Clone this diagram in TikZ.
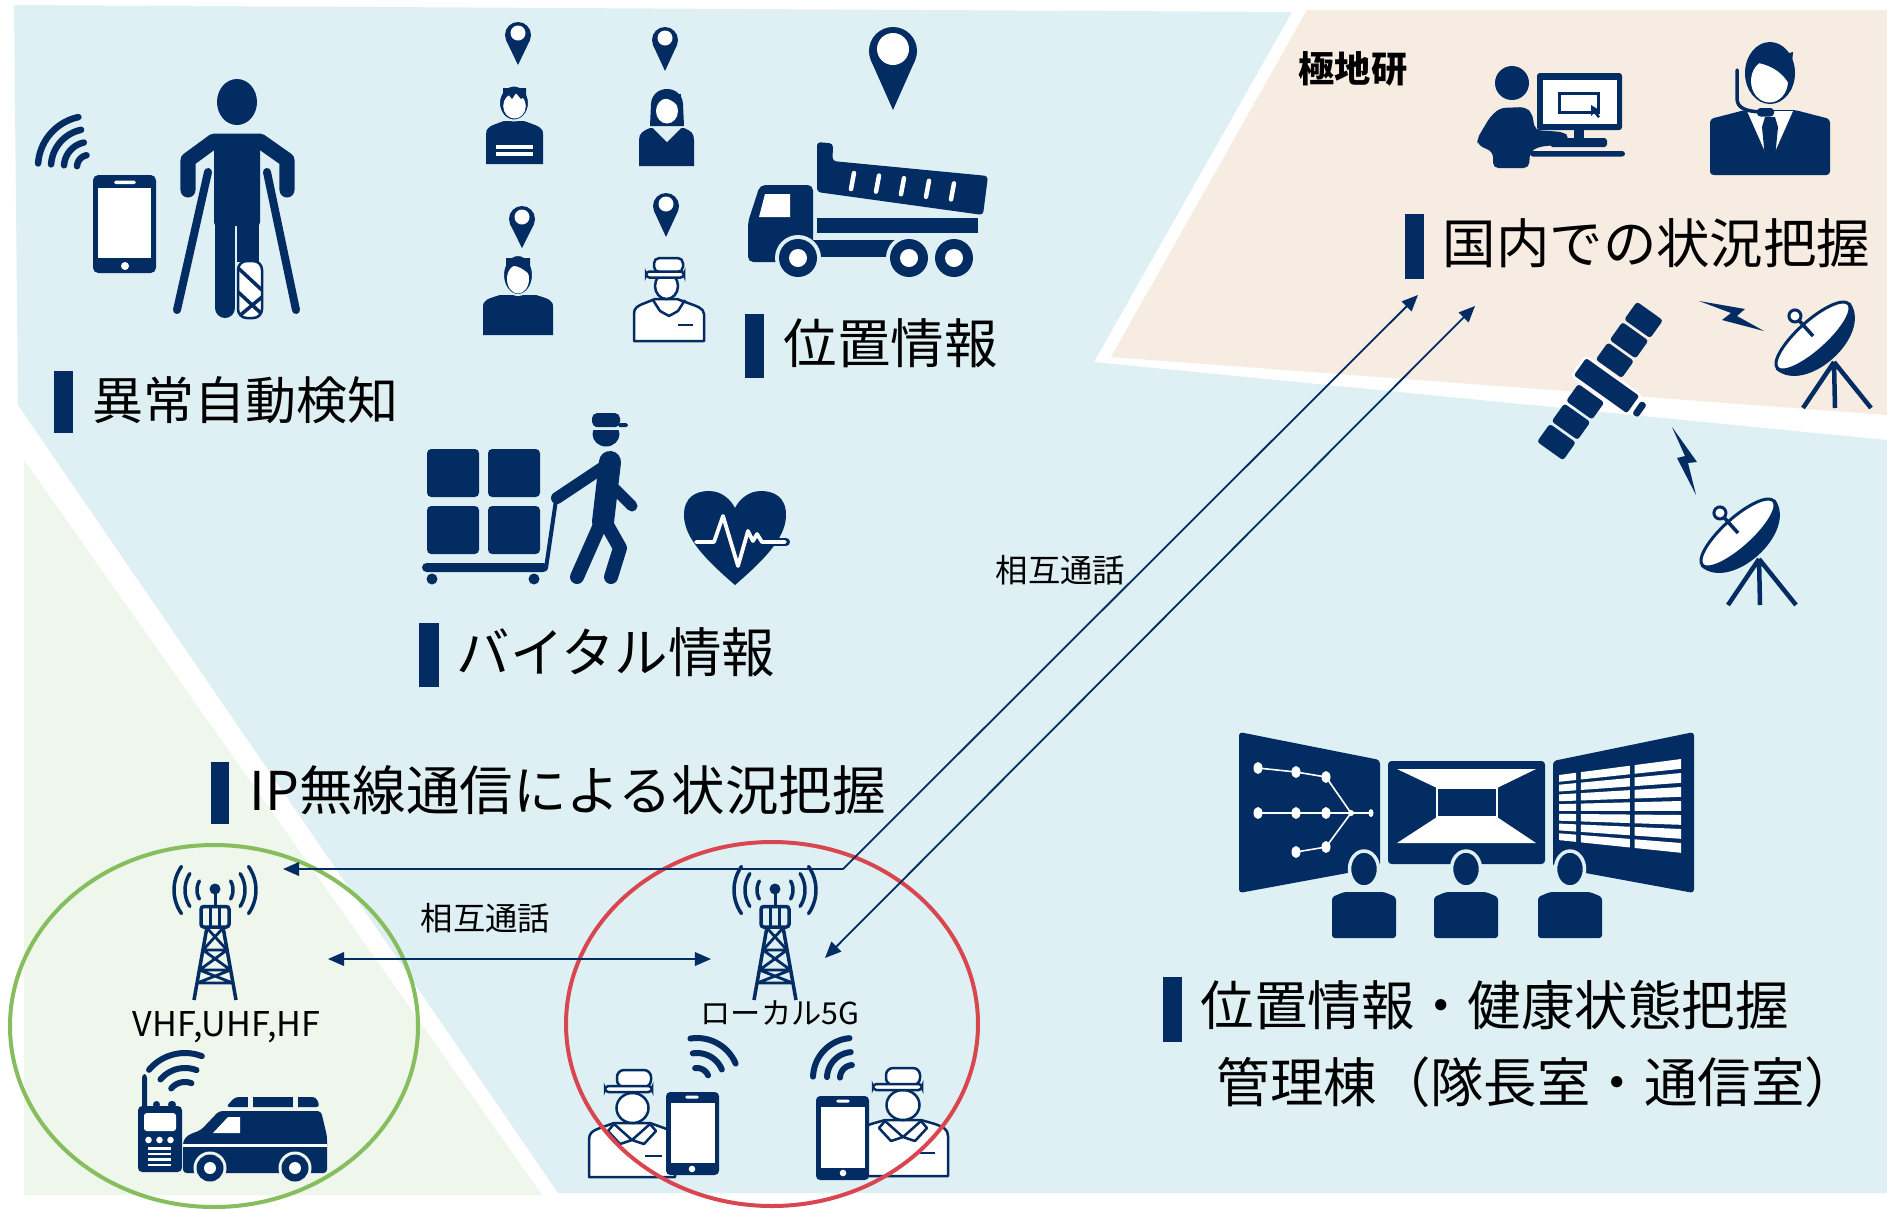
\documentclass[tikz,border=0pt]{standalone}
\usepackage{fontspec}
\newfontfamily\jp{Noto Sans CJK JP}
\usetikzlibrary{arrows.meta}

\definecolor{navy}{HTML}{022C62}
\definecolor{skybg}{HTML}{DFF0F4}
\definecolor{sandbg}{HTML}{F6ECE1}
\definecolor{leafbg}{HTML}{EFF6EC}
\definecolor{ringgreen}{HTML}{86BD5D}
\definecolor{ringred}{HTML}{DA4650}

\tikzset{
  lw/.style={line width=#1*0.2845pt},
  title/.style={inner sep=0pt, anchor=west, text=black, font=\jp\fontsize{15.2pt}{18pt}\selectfont},
  smalllbl/.style={inner sep=0pt, anchor=west, text=black, font=\jp\fontsize{9.2pt}{11pt}\selectfont},
  link/.style={navy, lw=1.8, {Triangle[length=4.6pt,width=3.9pt]}-{Triangle[length=4.6pt,width=3.9pt]}},
  radiotower/.pic={
    \foreach \r/\a in {18/30, 30/33, 41/35} {
      \draw[navy, lw=3.5, line cap=round] plot[domain=-\a:\a, samples=14] ({\r*cos(\x)},{1+\r*sin(\x)});
      \draw[navy, lw=3.5, line cap=round] plot[domain=180-\a:180+\a, samples=14] ({\r*cos(\x)},{1+\r*sin(\x)});
    }
    \fill[navy] (0,0) circle[radius=5.5];
    \draw[navy, lw=3] (0,0) -- (0,17);
    \draw[navy, lw=3.5, rounded corners=0.8pt] (-14,17.5) rectangle (14,38);
    \draw[navy, lw=3] (-4.7,17.5) -- (-4.7,38) (4.7,17.5) -- (4.7,38);
    \draw[navy, lw=3.5] (-8,38) -- (-21,111) (8,38) -- (21,111);
    \draw[navy, lw=2.8] (-8,39) -- (12,61) (8,39) -- (-12,61) (-12,61) -- (12,61)
      (-12,61) -- (15.6,81) (12,61) -- (-15.6,81) (-15.6,81) -- (15.6,81)
      (-15.6,81) -- (17.9,94) (15.6,81) -- (-17.9,94) (-17.9,94) -- (17.9,94);
  },
  dish/.pic={
    \draw[navy, lw=4.5] (21,26) -- (-10,72) (21,26) -- (22,72) (21,26) -- (58,72);
    \begin{scope}[rotate=42]
      \fill[navy] (-50,0) .. controls (-45,40) and (45,40) .. (50,0) -- cycle;
      \filldraw[fill=white, draw=navy, lw=3] (0,0) ellipse[x radius=48, y radius=15];
      \draw[navy, lw=3.5] (0,0) -- (0,-21);
      \filldraw[fill=white, draw=navy, lw=3] (0,-27) circle[radius=6];
    \end{scope}
  }
}

\newcommand\mapPin[5]{%
  \fill[navy] (#1,#2) circle[radius=#3];
  \fill[navy] ({#1-0.91*#3},{#2+0.41*#3}) -- (#1,#4) -- ({#1+0.91*#3},{#2+0.41*#3}) -- cycle;
  \fill[white] (#1,{#2-2}) circle[radius=#5];
}

\begin{document}
\begin{tikzpicture}[x=0.01cm, y=-0.01cm]
\useasboundingbox (0,0) rectangle (1887,1208);
\fill[white] (0,0) rectangle (1887,1208);

% ---------- background areas ----------
\fill[skybg] (14,5) -- (1292,12) -- (1094,362) -- (1887,440) -- (1887,1193) -- (558,1193) -- (18,405) -- cycle;
\fill[sandbg] (1307,10) -- (1887,10) -- (1887,415) -- (1111,357) -- cycle;
\fill[leafbg] (24,460) -- (542,1195) -- (24,1195) -- cycle;

% ---------- injured person with phone ----------
\fill[navy] (237,102) ellipse[x radius=20, y radius=23];
\draw[navy, lw=15, line join=round, line cap=round] (188,190) -- (188,160) -- (214,141) -- (260,141) -- (287,160) -- (287,190);
\fill[navy, rounded corners=1pt] (214,134) rectangle (260,226);
\draw[navy, lw=20, line cap=round] (225,220) -- (225,308);
\fill[navy] (237,220) rectangle (259,262);
\begin{scope}
  \filldraw[fill=white, draw=navy, lw=2.5, rounded corners=2.5pt] (238,261) rectangle (262,318);
  \clip[rounded corners=2.5pt] (238,261) rectangle (262,318);
  \draw[navy, lw=3.5] (236,266) -- (264,292) (236,290) -- (264,316) (238,317) -- (262,297);
\end{scope}
\draw[navy, lw=8, line cap=round] (208,172) -- (177,310);
\draw[navy, lw=8, line cap=round] (267,172) -- (296,310);
\fill[navy, rounded corners=1.5pt] (93,175) rectangle (156,273);
\fill[white] (98,188) rectangle (151,258);
\fill[white, rounded corners=0.5pt] (114,180.5) rectangle (136,184);
\fill[white] (125,266) circle[radius=4];
\foreach \r in {12,25,38,51}
  \draw[navy, lw=6.5, line cap=round] plot[domain=-176:-102, samples=24] ({89+\r*cos(\x)},{167+\r*sin(\x)});

\fill[navy] (54,371) rectangle (73,433);
\node[title, font=\jp\fontsize{14.5pt}{17pt}\selectfont] (lblAnomaly) at (92,400) {異常自動検知};

% ---------- located people ----------
\mapPin{518}{35}{13}{65}{7.5}
\mapPin{665}{40}{13}{71}{7.5}
\mapPin{522}{219}{13}{248}{7.5}
\mapPin{666}{206}{13}{237}{7.5}

% person with striped shirt
\fill[navy] (486,164) -- (486,134) .. controls (486,127) and (490,126) .. (504,121) -- (524,121) .. controls (538,126) and (543,127) .. (543,134) -- (543,164) -- cycle;
\fill[white] (496,144.5) rectangle (533,148.5);
\fill[white] (496,151.5) rectangle (533,155.5);
\filldraw[fill=navy, draw=skybg, lw=2] (514,103) ellipse[x radius=15, y radius=17.5];
\fill[white] (514.5,106) ellipse[x radius=11.3, y radius=12.5];
\fill[navy] (503,100) -- (508,94) -- (512,99) -- (516,93) -- (521,99) -- (526,96) -- (526,88) -- (503,88) -- cycle;

% woman
\fill[navy] (639,166) -- (639,140) .. controls (639,133) and (643,131) .. (650,128) -- (684,128) .. controls (691,131) and (694,133) .. (694,140) -- (694,166) -- cycle;
\fill[skybg] (652,127) -- (667,142) -- (682,127) -- cycle;
\fill[navy] (650,126) -- (651,104) .. controls (652,84) and (682,84) .. (683,104) -- (684,126) -- cycle;
\fill[white] (667,111) ellipse[x radius=11, y radius=12.5];
\fill[navy] (655,100) .. controls (662,96) and (672,98) .. (680,108) -- (681,94) -- (655,94) -- cycle;

% man
\fill[navy] (483,335) -- (483,307) .. controls (483,300) and (487,299) .. (500,295) -- (536,295) .. controls (549,299) and (553,300) .. (553,307) -- (553,335) -- cycle;
\filldraw[fill=navy, draw=skybg, lw=2] (518,275) ellipse[x radius=15, y radius=20];
\fill[white] (518,279) ellipse[x radius=11, y radius=14.5];
\fill[navy] (506,270) .. controls (512,262) and (522,267) .. (530,275) -- (530,258) -- (506,258) -- cycle;

% worker with cap
\filldraw[fill=white, draw=navy, lw=2.5, line join=round] (634,341) -- (634,314) .. controls (634,308) and (637,306) .. (645,303) -- (655,299) -- (677,299) -- (688,303) .. controls (696,306) and (704,308) .. (704,314) -- (704,341) -- cycle;
\draw[navy, lw=2.5, line join=round] (653,300) -- (660,311) -- (669,316) -- (678,311) -- (685,300);
\draw[navy, lw=2.5] (678,325) -- (693,325);
\filldraw[fill=white, draw=navy, lw=2.5] (666.5,286) ellipse[x radius=11.5, y radius=13];
\filldraw[fill=white, draw=navy, lw=2.5, rounded corners=1.5pt] (654,272) -- (654,258) -- (683,258) -- (683,272) -- cycle;
\filldraw[fill=white, draw=navy, lw=2.5, rounded corners=1pt] (646,271.5) rectangle (684,277.5);

% ---------- dump truck ----------
\mapPin{893}{51}{24}{110}{16}
\fill[navy, rounded corners=1pt] (817,142) -- (833,143.5) -- (832.5,161) -- (988,176) -- (983,215) -- (817,192) -- cycle;
\foreach \k in {0,...,4}
  \draw[white, lw=4.5, line cap=round] ({854+25*\k},{173+2.6*\k}) -- ({851+25*\k},{189+2.6*\k});
\fill[navy] (817,218) rectangle (978,233);
\fill[navy, rounded corners=1.5pt] (748,262) -- (748,222) -- (760,185) -- (813,185) -- (813,262) -- cycle;
\fill[white] (765,194) -- (790,194) -- (790,217) -- (759,217) -- cycle;
\fill[navy] (810,240) rectangle (895,257);
\fill[skybg] (798,258) circle[radius=23];
\fill[skybg] (909,258) circle[radius=23];
\foreach \c in {798,909,954} {
  \fill[navy] (\c,258) circle[radius=19];
  \fill[white] (\c,258) circle[radius=9];
}
\fill[navy] (745,314) rectangle (764,378);
\node[title] (lblPos) at (783,343) {位置情報};

% ---------- hand cart and vital sign ----------
\foreach \bx/\by in {427/449, 488/449, 427/506, 488/506}
  \fill[navy, rounded corners=1.2pt] (\bx,\by) rectangle ++(52,48);
\fill[navy, rounded corners=1.3pt] (422,563) rectangle (548,572);
\fill[navy] (432,579) circle[radius=5.5];
\fill[navy] (534,579) circle[radius=5.5];
\draw[navy, lw=4, line cap=round] (546,568) -- (556,500);
\draw[navy, lw=22, line cap=round] (610,462) -- (603,522);
\draw[navy, lw=12, line cap=round] (605,466) -- (557,498);
\draw[navy, lw=11, line cap=round] (615,489) -- (632,506);
\draw[navy, lw=14, line cap=round, line join=round] (600,525) -- (577,577);
\draw[navy, lw=14, line cap=round, line join=round] (607,525) -- (620,548) -- (611,577);
\fill[navy] (606,434) ellipse[x radius=13.5, y radius=12.5];
\fill[skybg] (589,426.5) rectangle (631,429.5);
\fill[navy, rounded corners=1.5pt] (592,427) -- (592,413) -- (620,413) -- (620,427) -- cycle;
\fill[navy, rounded corners=0.5pt] (618,423) rectangle (628,427);

\fill[navy] (735,585) .. controls (700,555) and (684,535) .. (684,515) .. controls (684,497) and (696,491) .. (709,491) .. controls (722,491) and (731,500) .. (735,508) .. controls (739,500) and (748,491) .. (761,491) .. controls (774,491) and (786,497) .. (786,515) .. controls (786,535) and (770,555) .. (735,585) -- cycle;
\draw[navy, lw=8, line cap=round] (765,542) -- (786,542);
\draw[white, lw=3.8, line cap=round, line join=round] (696,542) -- (714,542) -- (723,516) -- (738,566) -- (748,531) -- (753,541) -- (757,534) -- (762,542) -- (785,542);

\fill[navy] (419,623) rectangle (439,687);
\node[title] (lblVital) at (456,652) {バイタル情報};

\fill[navy] (211,762) rectangle (229,824);
\node[title] (lblIP) at (249,790) {IP無線通信による状況把握};

% ---------- home institute ----------
\node[inner sep=0pt, anchor=west, text=black, font=\jp\bfseries\fontsize{10.3pt}{12pt}\selectfont] (lblNipr) at (1298,69) {極地研};

\fill[navy] (1512,83) circle[radius=17];
\fill[navy, rounded corners=1.5pt] (1493,168) -- (1493,152) -- (1478,145) -- (1477,139) -- (1490,117) -- (1500,108) -- (1525,107) -- (1532,113) -- (1535,130) -- (1563,132) -- (1570,137) -- (1563,144) -- (1538,147) -- (1530,152) -- (1529,168) -- cycle;
\fill[navy, rounded corners=0.8pt] (1537,73) rectangle (1622,130);
\fill[white] (1543,80) rectangle (1617,124);
\draw[navy, lw=3] (1559,93) rectangle (1598,112);
\fill[navy] (1591,105) -- (1591,116) -- (1594,113) -- (1598,118) -- (1600,116.5) -- (1596.5,111.5) -- (1600,110.5) -- cycle;
\fill[navy] (1574,129) rectangle (1584,139);
\fill[navy, rounded corners=0.8pt] (1550,138) rectangle (1607,147);
\fill[navy, rounded corners=0.8pt] (1530,151) rectangle (1625,156.5);

\fill[navy, rounded corners=1pt] (1710,175) -- (1710,119) -- (1745,110) -- (1795,110) -- (1830,119) -- (1830,175) -- cycle;
\fill[white] (1747,111) -- (1793,111) -- (1770,163) -- cycle;
\fill[navy] (1765,117) -- (1775,117) -- (1778,127) -- (1775,158) -- (1770,164) -- (1765,158) -- (1762,127) -- cycle;
\fill[navy] (1770,73) ellipse[x radius=25, y radius=31];
\fill[white] (1769.5,81) ellipse[x radius=18.5, y radius=21.5];
\fill[navy] (1753,62) .. controls (1768,64) and (1782,70) .. (1790,86) -- (1793,52) -- cycle;
\draw[navy, lw=3.5, line cap=round] (1737,70) -- (1737,98) .. controls (1737,108) and (1745,111) .. (1760,112);
\fill[navy, rounded corners=1pt] (1757,108) rectangle (1774,116.5);

\fill[navy] (1405,214) rectangle (1424,279);
\node[title] (lblDomestic) at (1442,243) {国内での状況把握};

% ---------- satellite link ----------
\begin{scope}[shift={(1600,381)}, rotate=54.5]
  \foreach \a/\b in {15/36, 39/61, 64/86, -36/-15, -61/-39, -86/-64}
    \fill[navy, rounded corners=0.8pt] (\a,-16) rectangle (\b,16);
  \filldraw[fill=navy, draw=white, lw=2.5, rounded corners=1pt] (-12,-26) rectangle (12,42);
  \fill[navy, rounded corners=0.8pt] (-8,45) rectangle (8,52);
\end{scope}
\fill[navy] (1699,301) -- (1745,309) -- (1737,316) -- (1764,331) -- (1722,320) -- (1731,313) -- cycle;
\fill[navy] (1672,427) -- (1697,462) -- (1688,463) -- (1696,495) -- (1677,458) -- (1685,456) -- cycle;
\pic at (1813,336) {dish};
\pic at (1738,533) {dish};

% ---------- control room ----------
\fill[navy, rounded corners=1pt] (1239,732) -- (1380,760) -- (1380,867) -- (1239,893) -- cycle;
\draw[white, lw=1.6] (1258,768) -- (1296,772) -- (1326,777) -- (1351,813) (1258,813) -- (1371,813) (1296,852) -- (1326,847) -- (1351,813);
\foreach \p in {(1258,768),(1296,772),(1326,777),(1258,813),(1296,813),(1326,813),(1296,852),(1326,847)}
  \fill[white] \p ellipse[x radius=4.5, y radius=6];
\fill[white] (1351,813) circle[radius=3];
\fill[white] (1371,813) ellipse[x radius=2.5, y radius=4];

\fill[navy, rounded corners=1pt] (1388,761) rectangle (1545,864);
\fill[white] (1397,769) -- (1536,769) -- (1497,788) -- (1437,788) -- cycle;
\fill[white] (1437,817) -- (1497,817) -- (1536,843) -- (1397,843) -- cycle;
\draw[white, lw=1.5] (1437,788) rectangle (1497,817);

\fill[navy, rounded corners=1pt] (1553,761) -- (1694,732) -- (1694,893) -- (1553,867) -- cycle;
\foreach \i in {0,...,6} {
  \foreach \a/\b in {0/0.14, 0.18/0.58, 0.62/1} {
    \pgfmathsetmacro\ta{\i/7}
    \pgfmathsetmacro\tb{(\i+0.7)/7}
    \fill[white] ({1559+122*\a},{775-16*\a+\ta*(68+30*\a)}) -- ({1559+122*\b},{775-16*\b+\ta*(68+30*\b)}) -- ({1559+122*\b},{775-16*\b+\tb*(68+30*\b)}) -- ({1559+122*\a},{775-16*\a+\tb*(68+30*\a)}) -- cycle;
  }
}
\foreach \hx/\bx in {1364/1332, 1466/1434, 1570/1538} {
  \filldraw[fill=navy, draw=skybg, lw=3.5] (\hx,869) ellipse[x radius=14.5, y radius=18];
  \fill[navy, rounded corners=0.8pt] (\bx,938) -- (\bx,897) -- ({\bx+12},892) -- ({\bx+52},892) -- ({\bx+64},897) -- ({\bx+64},938) -- cycle;
}
\fill[navy] (1163,977) rectangle (1182,1042);
\node[title] (lblHQ1) at (1200,1005) {位置情報・健康状態把握};
\node[title] (lblHQ2) at (1216,1082) {管理棟（隊長室・通信室）};

% ---------- VHF/UHF/HF zone ----------
\pic at (215,889) {radiotower};
\node[inner sep=0pt, anchor=base west, text=black, font=\jp\fontsize{9.7pt}{11pt}\selectfont] (lblVhf) at (132,1036) {VHF,UHF,HF};

\fill[navy, rounded corners=1pt] (142,1074) rectangle (147,1110);
\fill[navy, rounded corners=1pt] (153,1101) rectangle (160,1108);
\fill[navy, rounded corners=1pt] (168,1101) rectangle (176,1108);
\fill[navy, rounded corners=1.2pt] (138,1106) rectangle (182,1172);
\fill[white, rounded corners=0.8pt] (144,1113) rectangle (176,1131);
\foreach \c in {148.5,159.5,170.5} \fill[white] (\c,1140) circle[radius=3.3];
\foreach \c in {1147,1152.5,1158,1163.5} \fill[white] (148,\c) rectangle (171,{\c+2.5});
\foreach \r in {18,32,47}
  \draw[navy, lw=6, line cap=round] plot[domain=-140:-69, samples=18] ({185+\r*cos(\x)},{1100+\r*sin(\x)});

\fill[navy, rounded corners=1pt] (183,1173) -- (183,1141) -- (188,1135) -- (201,1130) -- (219,1111) -- (321,1111) -- (327,1136) -- (327,1173) -- cycle;
\fill[navy, rounded corners=1pt] (226,1107) -- (235,1097) -- (316,1097) -- (320,1107) -- cycle;
\fill[leafbg] (248,1096) rectangle (253,1108);
\fill[leafbg] (293,1096) rectangle (298,1108);
\fill[white] (183,1143.5) rectangle (327,1146.5);
\fill[white] (213,1133) -- (240,1133) -- (240,1117) -- (228,1117) -- cycle;
\fill[leafbg] (210,1168) circle[radius=16.5];
\fill[leafbg] (295,1168) circle[radius=16.5];
\foreach \c in {210,295} {
  \fill[navy] (\c,1168) circle[radius=13.5];
  \fill[white] (\c,1168) circle[radius=6];
}

% ---------- local 5G zone ----------
\pic at (775,889) {radiotower};
\node[inner sep=0pt, anchor=base west, text=black, font=\jp\fontsize{8.6pt}{10pt}\selectfont] (lbl5g) at (700,1024) {ローカル5G};

% left worker with phone
\filldraw[fill=white, draw=navy, lw=2.5, line join=round] (589,1177) -- (589,1140) .. controls (589,1133) and (592,1131) .. (600,1128) -- (614,1123) -- (650,1123) -- (664,1128) .. controls (672,1131) and (675,1133) .. (675,1140) -- (675,1177) -- cycle;
\draw[navy, lw=2.5, line join=round] (614,1124) -- (608,1131) -- (620,1144) -- (632,1140) -- (644,1144) -- (656,1131) -- (650,1124) (614,1124) -- (632,1140) -- (650,1124);
\draw[navy, lw=2.5] (645,1156) -- (662,1156);
\filldraw[fill=white, draw=navy, lw=2.5] (632.5,1108) ellipse[x radius=16, y radius=15];
\filldraw[fill=white, draw=navy, lw=2.5, rounded corners=2pt] (617,1087) -- (617,1070) -- (651,1070) -- (651,1087) -- cycle;
\filldraw[fill=white, draw=navy, lw=2.5, rounded corners=1pt] (605,1086) rectangle (652,1092);
\fill[navy, rounded corners=1.2pt] (666,1092) rectangle (719,1175);
\fill[white] (670.5,1103) rectangle (714.5,1163);
\fill[white, rounded corners=0.5pt] (685,1095.5) rectangle (699,1098.5);
\fill[white] (692,1169) circle[radius=3.3];
\foreach \r in {12,27,42}
  \draw[navy, lw=6, line cap=round] plot[domain=-99:-23, samples=16] ({697+\r*cos(\x)},{1080+\r*sin(\x)});

% right worker with phone
\filldraw[fill=white, draw=navy, lw=2.5, line join=round] (860,1176) -- (860,1136) .. controls (860,1129) and (863,1127) .. (871,1124) -- (885,1120) -- (921,1120) -- (935,1124) .. controls (943,1127) and (948,1129) .. (948,1136) -- (948,1176) -- cycle;
\draw[navy, lw=2.5, line join=round] (885,1121) -- (879,1128) -- (891,1141) -- (903,1137) -- (915,1141) -- (927,1128) -- (921,1121) (885,1121) -- (903,1137) -- (921,1121);
\draw[navy, lw=2.5] (920,1153) -- (935,1153);
\filldraw[fill=white, draw=navy, lw=2.5] (903,1105) ellipse[x radius=16.5, y radius=15];
\filldraw[fill=white, draw=navy, lw=2.5, rounded corners=2pt] (886,1085) -- (886,1068) -- (920,1068) -- (920,1085) -- cycle;
\filldraw[fill=white, draw=navy, lw=2.5, rounded corners=1pt] (873,1084) rectangle (922,1090);
\fill[navy, rounded corners=1.2pt] (816,1096) rectangle (869,1180);
\fill[white] (820.5,1107) rectangle (864.5,1168);
\fill[white, rounded corners=0.5pt] (836,1099.5) rectangle (850,1102.5);
\fill[white] (843,1173) circle[radius=3.3];
\foreach \r in {13,26,40}
  \draw[navy, lw=6, line cap=round] plot[domain=-178:-95, samples=16] ({853+\r*cos(\x)},{1078+\r*sin(\x)});

% ---------- coverage rings ----------
\draw[ringgreen, lw=4] (214,1026) ellipse[x radius=204, y radius=181];
\draw[ringred, lw=4] (772,1024) ellipse[x radius=206, y radius=182];

% ---------- talk links ----------
\coordinate (vhfIn) at (283,869);
\coordinate (bend) at (843,869);
\coordinate (homeA) at (1418,295);
\coordinate (homeB) at (1475,306);
\coordinate (g5In) at (825,958);
\coordinate (vhfSide) at (328,959);
\coordinate (g5Side) at (711,959);
\draw[link, line join=round] (vhfIn) -- (bend) -- (homeA);
\draw[link] (homeB) -- (g5In);
\draw[link] (vhfSide) -- (g5Side);
\node[smalllbl] (lblTalkTop) at (995,570) {相互通話};
\node[smalllbl] (lblTalkLow) at (420,918) {相互通話};

\end{tikzpicture}
\end{document}
